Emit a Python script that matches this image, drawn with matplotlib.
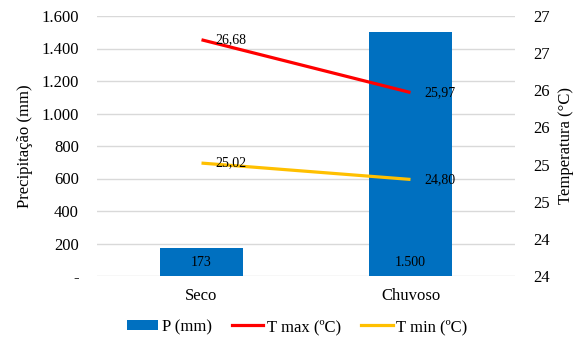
import matplotlib
matplotlib.use("Agg")
import matplotlib.pyplot as plt
from matplotlib.ticker import FuncFormatter, FixedLocator
from matplotlib.lines import Line2D
from matplotlib.patches import Patch

categories = ["Seco", "Chuvoso"]
precip = [173, 1500]
tmax = [26.68, 25.97]
tmin = [25.02, 24.80]

left_ticks = [0, 200, 400, 600, 800, 1000, 1200, 1400, 1600]
right_ticks = [23.5, 24.0, 24.5, 25.0, 25.5, 26.0, 26.5, 27.0]

plt.rcParams['font.family'] = ['Liberation Serif', 'DejaVu Serif']

BLUE = "#0070C0"
RED = "#FF0000"
YELLOW = "#FFC000"
GRID = "#D9D9D9"
TXT = "#000000"
FS = 12

fig = plt.figure(figsize=(5.87, 3.42), dpi=100)
ax = fig.add_axes([97/587, 66/342, 418/587, 260/342])
x = list(range(len(categories)))

ax.bar(x, precip, width=0.4, color=BLUE, zorder=2)
ax.set_xlim(-0.5, 1.5)
ax.set_ylim(0, 1600)
ax.yaxis.set_major_locator(FixedLocator(left_ticks))

def pfmt(v, pos):
    if v == 0:
        return "-"
    return f"{int(round(v)):,}".replace(",", ".")

ax.yaxis.set_major_formatter(FuncFormatter(pfmt))
ax.grid(axis='y', color=GRID, linewidth=1, zorder=0)
ax.set_axisbelow(True)
for s in ax.spines.values():
    s.set_visible(False)
ax.tick_params(axis='y', length=0, pad=13, labelsize=FS, labelcolor=TXT)
ax.tick_params(axis='x', length=0, pad=9, labelsize=FS, labelcolor=TXT)
ax.set_xticks(x)
ax.set_xticklabels(categories)
ax.set_ylabel("Precipitação (mm)", fontsize=FS, labelpad=6)

for xi, v in zip(x, precip):
    ax.text(xi, 86, pfmt(v, None), ha='center', va='center', fontsize=10, zorder=3)

ax2 = ax.twinx()
ax2.set_ylim(23.5, 27.0)
ax2.yaxis.set_major_locator(FixedLocator(right_ticks))
ax2.yaxis.set_major_formatter(FuncFormatter(lambda v, p: str(int(v + 0.5))))
for s in ax2.spines.values():
    s.set_visible(False)
ax2.tick_params(axis='y', length=0, pad=13, labelsize=FS, labelcolor=TXT)
ax2.set_ylabel("Temperatura (°C)", fontsize=FS, labelpad=6)

ax2.plot(x, tmax, color=RED, linewidth=2.3, solid_capstyle='butt', zorder=3)
ax2.plot(x, tmin, color=YELLOW, linewidth=2.3, solid_capstyle='butt', zorder=3)
for series in (tmax, tmin):
    for xi, v in zip(x, series):
        ax2.annotate(f"{v:.2f}".replace(".", ","), (xi, v), xytext=(10, 0),
                     textcoords='offset points', ha='left', va='center', fontsize=10)

handles = [Patch(facecolor=BLUE, edgecolor='none'),
           Line2D([0], [0], color=RED, linewidth=2.3),
           Line2D([0], [0], color=YELLOW, linewidth=2.3)]
labels = ["P (mm)", "T max (ºC)", "T min (ºC)"]
fig.legend(handles, labels, loc='center', bbox_to_anchor=(297/587, 1 - 327/342),
           ncol=3, frameon=False, fontsize=FS, handlelength=1.9, handleheight=0.6,
           handletextpad=0.2, columnspacing=1.2)

fig.savefig("out.png", dpi=100)
